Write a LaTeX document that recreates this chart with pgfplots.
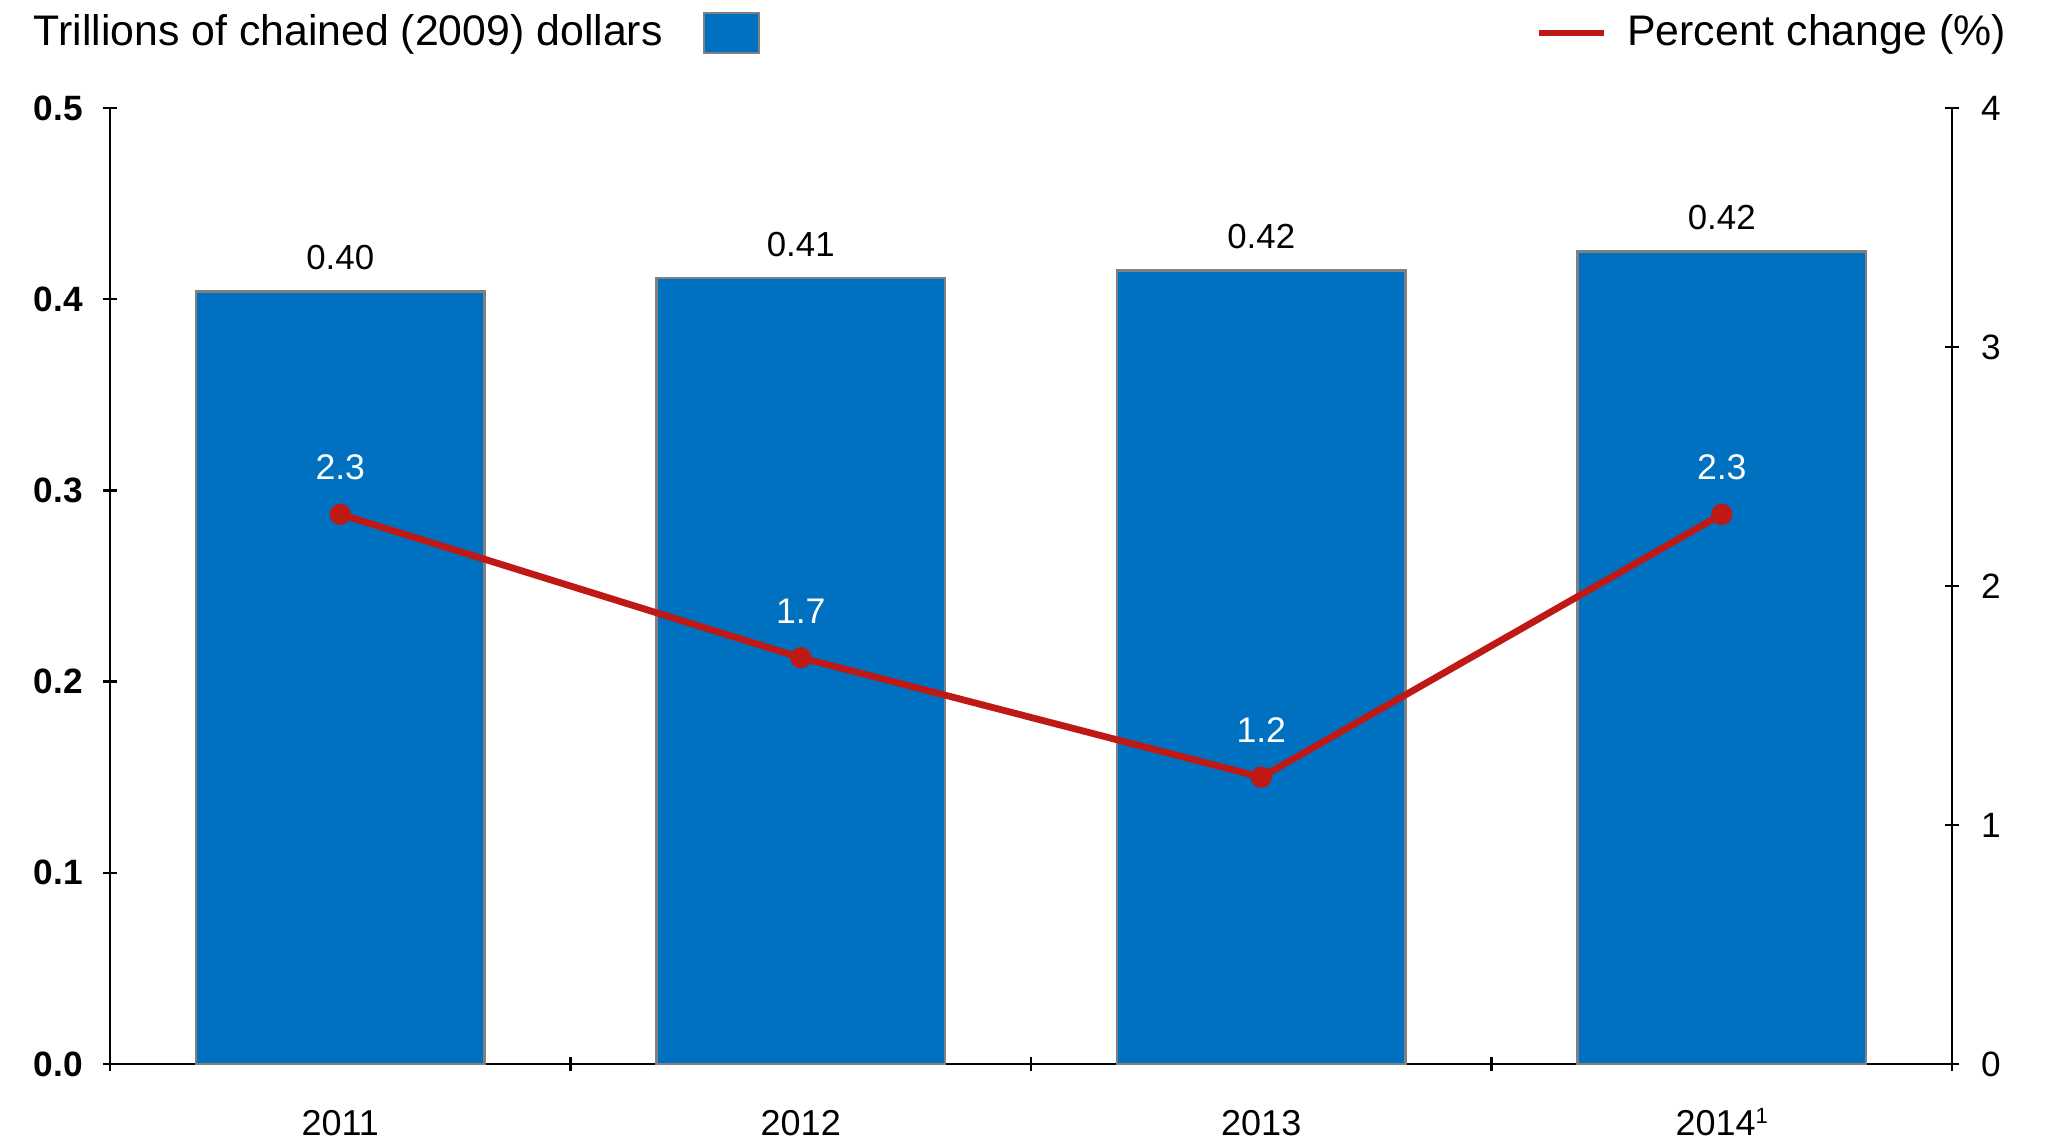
\documentclass[border=0pt]{standalone}
\usepackage{pgfplots}
\pgfplotsset{compat=1.18}
\usepackage{fontspec}
\setmainfont{Liberation Sans}
\definecolor{barblue}{RGB}{0,112,192}
\definecolor{linered}{RGB}{190,25,20}
\definecolor{baredge}{RGB}{128,128,128}

\begin{document}
\begin{tikzpicture}
\path[use as bounding box] (-27.5pt,-20.5pt) rectangle (484.5pt,266pt);
\pgfplotsset{
  common/.style={
    scale only axis, width=460.5pt, height=239pt,
    xmin=-0.5, xmax=3.5, ymin=0, clip=false,
    axis line style={line width=0.6pt, black},
    every non boxed x axis/.append style={x axis line style=-},
    every non boxed y axis/.append style={y axis line style=-},
    tick align=outside, major tick length=3.5pt,
    tick style={line width=0.6pt, black},
    /pgf/number format/assume math mode=true,
  }
}
% bars, left axis
\begin{axis}[common,
  ymax=0.5,
  axis y line=left, axis x line=bottom,
  ytick={0,0.1,0.2,0.3,0.4,0.5},
  yticklabel style={font=\bfseries\fontsize{8.8}{10}\selectfont, xshift=-1.5pt,
    /pgf/number format/fixed, /pgf/number format/fixed zerofill, /pgf/number format/precision=1},
  xtick={-0.5,0.5,1.5,2.5,3.5}, xticklabels={},
  extra x ticks={0,1,2,3},
  extra x tick labels={2011,2012,2013,2014\smash{\raisebox{3pt}{\fontsize{5.5}{6}\selectfont 1}}},
  extra x tick style={major tick length=0pt, xticklabel style={font=\fontsize{9}{10}\selectfont, yshift=-8pt}},
  legend plot pos=right,
  legend style={at={(axis description cs:-0.0418,1.0785)}, anchor=west, draw=none, fill=none,
    inner sep=0pt, font=\fontsize{10.7}{12}\selectfont, nodes={inner sep=0pt}},
  legend image code/.code={\path (0pt,0pt); \draw[fill=barblue, draw=baredge, line width=0.6pt] (10pt,-5pt) rectangle (23.75pt,5pt);},
]
\addplot[ybar, bar width=72.2pt, fill=barblue, draw=baredge, line width=0.6pt,
  point meta=explicit symbolic, nodes near coords={\pgfplotspointmeta},
  nodes near coords style={font=\fontsize{8.7}{10}\selectfont, black, anchor=south, inner sep=0pt, yshift=5.1pt}]
  coordinates {(0,0.404)[0.40] (1,0.411)[0.41] (2,0.415)[0.42] (3,0.425)[0.42]};
\addlegendentry{Trillions of chained (2009) dollars}
\end{axis}
% percent change, right axis
\begin{axis}[common,
  ymax=4,
  axis y line=right, axis x line=none,
  ytick={0,1,2,3,4},
  yticklabel style={font=\fontsize{8.8}{10}\selectfont, xshift=2pt},
  legend plot pos=left,
  legend style={at={(axis description cs:0.7736,1.0785)}, anchor=west, draw=none, fill=none,
    inner sep=0pt, font=\fontsize{10.7}{12}\selectfont, nodes={inner sep=0pt}},
  legend image code/.code={\draw[linered, line width=1.6pt] (0pt,0pt) -- (16.25pt,0pt); \path (21.25pt,0pt);},
]
\addplot[linered, line width=1.7pt, mark=*, mark size=1.8pt,
  point meta=explicit symbolic, nodes near coords={\pgfplotspointmeta},
  nodes near coords style={font=\fontsize{8.9}{10}\selectfont, white, anchor=south, inner sep=0pt, yshift=7.8pt}]
  coordinates {(0,2.3)[2.3] (1,1.7)[1.7] (2,1.2)[1.2] (3,2.3)[2.3]};
\addlegendentry{Percent change (\%)}
\end{axis}
\end{tikzpicture}
\end{document}
